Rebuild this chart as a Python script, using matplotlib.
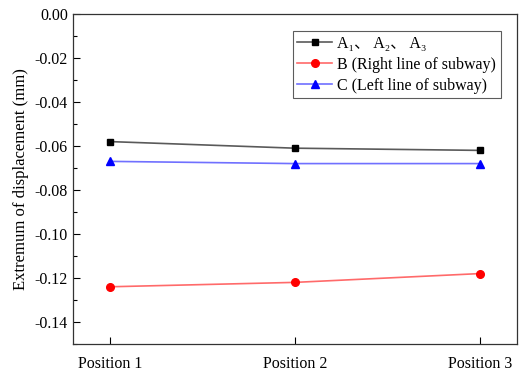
import numpy as np
import matplotlib.pyplot as plt
from matplotlib.ticker import MultipleLocator

# Dados
positions = ["Position 1", "Position 2", "Position 3"]
serie_a = [-0.058, -0.061, -0.062]
serie_b = [-0.124, -0.122, -0.118]
serie_c = [-0.067, -0.068, -0.068]
labels = ["A\u2081\u3001 A\u2082\u3001 A\u2083",
          "B (Right line of subway)",
          "C (Left line of subway)"]

plt.rcParams['font.family'] = ['Liberation Serif', 'DejaVu Serif', 'Noto Sans CJK SC']
plt.rcParams['font.size'] = 11.5

fig = plt.figure(figsize=(5.2, 3.78), dpi=100)
ax = fig.add_axes([0.140, 0.090, 0.854, 0.873])

x = np.arange(1, len(positions) + 1)
ax.plot(x, serie_a, color='#5a5a5a', lw=1.2, marker='s', ms=5,
        mfc='black', mec='black', label=labels[0])
ax.plot(x, serie_b, color='#ff6a6a', lw=1.2, marker='o', ms=5.5,
        mfc='red', mec='red', label=labels[1])
ax.plot(x, serie_c, color='#7070ff', lw=1.2, marker='^', ms=5.5,
        mfc='blue', mec='blue', label=labels[2])

ax.set_xlim(0.8, 3.2)
ax.set_ylim(-0.15, 0.0)
ax.set_xticks(x)
ax.set_xticklabels(positions)
ax.yaxis.set_major_locator(MultipleLocator(0.02))
ax.yaxis.set_minor_locator(MultipleLocator(0.01))
ax.yaxis.set_major_formatter(plt.FuncFormatter(lambda v, p: f"{v:.2f}"))
ax.tick_params(axis='both', which='major', direction='in', length=5, width=0.8)
ax.tick_params(axis='y', which='minor', direction='in', length=3, width=0.8)
ax.tick_params(axis='x', pad=9)
ax.set_ylabel("Extremum of displacement (mm)", fontsize=12)

for s in ax.spines.values():
    s.set_linewidth(0.9)
    s.set_color('#333333')

leg = ax.legend(loc='upper right', bbox_to_anchor=(0.964, 0.948), fontsize=11.5,
                frameon=True, fancybox=False, edgecolor='#333333',
                handlelength=2.2, handletextpad=0.3, borderpad=0.3,
                labelspacing=0.3, borderaxespad=0)
leg.get_frame().set_linewidth(0.8)

fig.savefig("out.png", dpi=100)
